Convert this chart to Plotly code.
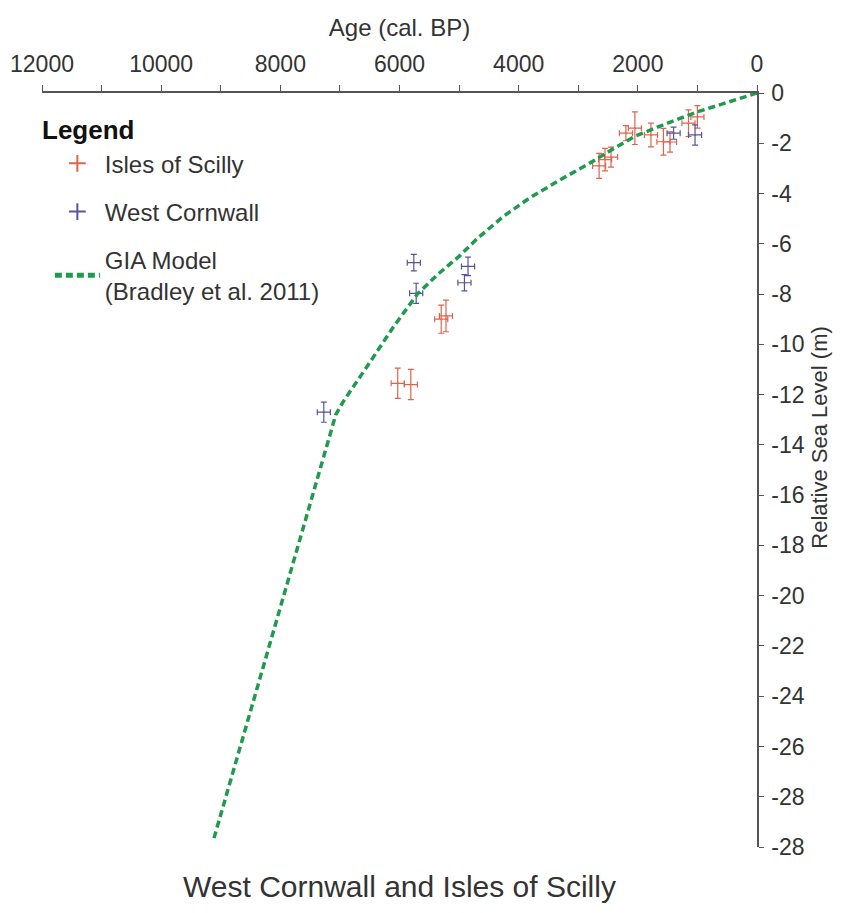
import plotly.graph_objects as go

# ---- data ----
scilly_age = [2650, 2550, 2450, 2200, 2050, 1780, 1570, 1460, 1150, 1000,
              5300, 5220, 6030, 5810]
scilly_rsl = [-2.9, -2.65, -2.55, -1.6, -1.4, -1.67, -1.94, -1.95, -1.2, -0.95,
              -9.0, -8.87, -11.55, -11.6]
scilly_age_err = [110, 110, 110, 110, 110, 110, 110, 110, 110, 110,
                  110, 110, 110, 110]
scilly_rsl_err = [0.5, 0.45, 0.4, 0.3, 0.65, 0.47, 0.53, 0.4, 0.53, 0.45,
                  0.56, 0.63, 0.6, 0.6]

cornwall_age = [1400, 1040, 5760, 5720, 4850, 4910, 7270]
cornwall_rsl = [-1.6, -1.67, -6.75, -7.97, -6.9, -7.55, -12.7]
cornwall_age_err = [110, 110, 110, 110, 110, 110, 110]
cornwall_rsl_err = [0.24, 0.4, 0.33, 0.4, 0.37, 0.32, 0.4]

gia_age = [0, 600, 1000, 1500, 2050, 2500, 2850, 3300, 3800, 4250, 4700,
           5000, 5350, 5700, 6100, 6550, 6950, 7070, 9120]
gia_rsl = [0, -0.45, -0.75, -1.2, -1.72, -2.35, -2.85, -3.45, -4.15, -4.9,
           -5.8, -6.5, -7.2, -8.0, -9.3, -10.9, -12.3, -12.8, -29.7]

x_ticks = [12000, 10000, 8000, 6000, 4000, 2000, 0]
x_ticktext = ['12000', '10000', '8000', '6000', '4000', '2000', '0']
y_ticks = [0, -2, -4, -6, -8, -10, -12, -14, -16, -18, -20, -22, -24, -26, -28, -30]
y_ticktext = ['0', '-2', '-4', '-6', '-8', '-10', '-12', '-14', '-16', '-18',
              '-20', '-22', '-24', '-26', '-28', '-28']

RED = '#e2634c'
BLUE = '#55559c'
GREEN = '#1f9a4e'
AXIS = '#555555'
TEXT = '#333333'
FONT = 'Arial, Liberation Sans, sans-serif'

fig = go.Figure()

fig.add_trace(go.Scatter(
    x = scilly_age, y = scilly_rsl,
    mode = 'markers',
    name = 'Isles of Scilly',
    legendgroup = 'a',
    marker = dict(symbol = 'cross-thin', size = 1, color = RED,
                  line = dict(color = RED, width = 1.3)),
    error_x = dict(type = 'data', array = scilly_age_err, color = RED,
                   thickness = 1.2, width = 3),
    error_y = dict(type = 'data', array = scilly_rsl_err, color = RED,
                   thickness = 1.2, width = 3),
))

fig.add_trace(go.Scatter(
    x = cornwall_age, y = cornwall_rsl,
    mode = 'markers',
    name = 'West Cornwall',
    legendgroup = 'b',
    marker = dict(symbol = 'cross-thin', size = 1, color = BLUE,
                  line = dict(color = BLUE, width = 1.3)),
    error_x = dict(type = 'data', array = cornwall_age_err, color = BLUE,
                   thickness = 1.2, width = 3),
    error_y = dict(type = 'data', array = cornwall_rsl_err, color = BLUE,
                   thickness = 1.2, width = 3),
))

fig.add_trace(go.Scatter(
    x = gia_age, y = gia_rsl,
    mode = 'lines',
    name = 'GIA Model<br>(Bradley et al. 2011)',
    legendgroup = 'c',
    line = dict(color = GREEN, width = 3.5, dash = '7px,4px'),
))

# page has an 8px body margin, so the figure is sized to fit inside it
fig.update_layout(
    width = 826,
    height = 897,
    template = 'none',
    plot_bgcolor = 'white',
    paper_bgcolor = 'white',
    font = dict(family = FONT, color = TEXT),
    margin = dict(l = 34, r = 77, t = 85, b = 58, autoexpand = False),
    legend = dict(
        x = 0.011, y = 0.936, xanchor = 'left', yanchor = 'top',
        font = dict(size = 24, color = TEXT),
        itemsizing = 'constant',
        itemwidth = 45,
        tracegroupgap = 14,
        bgcolor = 'rgba(0,0,0,0)',
    ),
    annotations = [
        dict(text = '<b>Legend</b>', xref = 'paper', yref = 'paper',
             x = -0.003, y = 0.951, xanchor = 'left', yanchor = 'middle',
             showarrow = False, font = dict(size = 26, color = '#111111')),
        dict(text = 'West Cornwall and Isles of Scilly', xref = 'paper', yref = 'paper',
             x = 0.5, y = -0.053, xanchor = 'center', yanchor = 'middle',
             showarrow = False, font = dict(size = 30, color = TEXT)),
        dict(text = 'Relative Sea Level (m)', xref = 'paper', yref = 'paper',
             x = 1.088, y = 0.544, xanchor = 'center', yanchor = 'middle',
             textangle = -90, showarrow = False, font = dict(size = 22, color = TEXT)),
    ],
)

fig.update_xaxes(
    range = [12000, 0],
    side = 'top',
    showline = True, linecolor = AXIS, linewidth = 1.5,
    showgrid = False, zeroline = False,
    ticks = 'outside', ticklen = 6, tickcolor = AXIS, tickwidth = 1.2,
    tickvals = x_ticks, ticktext = x_ticktext,
    ticklabelstandoff = 4,
    tickfont = dict(size = 23, color = TEXT),
    minor = dict(dtick = 1000, ticks = 'outside', ticklen = 6, tickcolor = AXIS, showgrid = False),
    title = dict(text = 'Age (cal. BP)', font = dict(size = 24, color = TEXT), standoff = 8),
    automargin = False,
)

fig.update_yaxes(
    range = [-30, 0],
    side = 'right',
    showline = True, linecolor = AXIS, linewidth = 1.5,
    showgrid = False, zeroline = False,
    ticks = 'outside', ticklen = 5, tickcolor = AXIS, tickwidth = 1.2,
    tickvals = y_ticks, ticktext = y_ticktext,
    ticklabelstandoff = 3,
    tickfont = dict(size = 23, color = TEXT),
    automargin = False,
)

fig.write_html("out.html")
